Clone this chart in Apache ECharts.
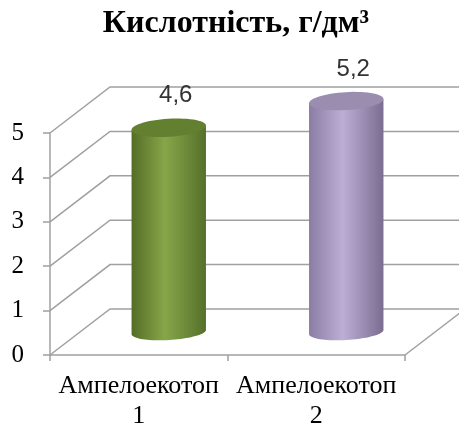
<!DOCTYPE html>
<html><head><meta charset="utf-8">
<script src="https://cdn.jsdelivr.net/npm/echarts@6/dist/echarts.min.js"></script>
<style>html,body{margin:0;padding:0;background:#fff}#c{width:459px;height:425px}</style>
</head><body><div id="c"></div>
<script>
var categories = ['Ампелоекотоп\n1', 'Ампелоекотоп\n2'];
var values = [4.6, 5.2];
var valueLabels = ['4,6', '5,2'];
var yTicks = [0, 1, 2, 3, 4, 5];
var titleText = 'Кислотність, г/дм³';

var DX = 60, DY = -46;
var gradients = [
  {side: ['#546d25', '#87a64a', '#55702a'], top: '#62802f'},
  {side: ['#8a7ca3', '#bdaed6', '#7b6d91'], top: '#9a8db0'}
];

function ellPt(cx, cy, rx, ry, rot, a) {
  var x = rx * Math.cos(a), y = ry * Math.sin(a);
  return [cx + x * Math.cos(rot) - y * Math.sin(rot), cy + x * Math.sin(rot) + y * Math.cos(rot)];
}
function ellipsePts(cx, cy, rx, ry, rot, a0, a1, n) {
  var pts = [];
  for (var i = 0; i <= n; i++) pts.push(ellPt(cx, cy, rx, ry, rot, a0 + (a1 - a0) * i / n));
  return pts;
}

var chart = echarts.init(document.getElementById('c'));
var serif = '"Liberation Serif","Times New Roman",serif';
var sans = '"Liberation Sans",Arial,sans-serif';
chart.setOption({
  animation: false,
  title: {text: titleText, left: 231, textAlign: 'center', top: 3,
    textStyle: {fontFamily: serif, fontSize: 32, fontWeight: 'bold', color: '#000'}},
  grid: {left: 50, right: 54, top: 133, bottom: 70, containLabel: false, outerBoundsMode: 'none'},
  xAxis: {type: 'category', data: categories,
    axisLine: {lineStyle: {color: '#a0a0a0', width: 1.5}},
    axisTick: {show: true, length: 6, lineStyle: {color: '#a0a0a0', width: 1.5}},
    axisLabel: {interval: 0, hideOverlap: false, fontFamily: serif, fontSize: 26, color: '#000', lineHeight: 30, margin: 16}},
  yAxis: {type: 'value', min: 0, max: 5, interval: 1,
    axisLine: {show: true, lineStyle: {color: '#a0a0a0', width: 1.5}},
    axisTick: {show: true, length: 7, lineStyle: {color: '#a0a0a0', width: 1.5}},
    splitLine: {show: false},
    axisLabel: {fontFamily: serif, fontSize: 25, color: '#000', margin: 26}},
  series: [
    {type: 'custom', silent: true, z: 1, data: yTicks.map(function(v){return [0, v];}),
      renderItem: function(params, api) {
        var cs = params.coordSys;
        var v = api.value(1);
        var y = api.coord([0, v])[1];
        var L = cs.x, R = cs.x + cs.width;
        var st = {stroke: '#a0a0a0', lineWidth: 1.5, fill: null};
        var children = [{type: 'polyline', shape: {points: [[L, y], [L + DX, y + DY], [R + DX + 10, y + DY]]}, style: st}];
        if (v === 0) children.push({type: 'line', shape: {x1: R, y1: y, x2: R + DX, y2: y + DY}, style: st});
        return {type: 'group', children: children};
      }},
    {type: 'custom', silent: true, z: 3, data: values.map(function(v, i){return [i, v];}),
      renderItem: function(params, api) {
        var i = api.value(0), v = api.value(1);
        var b = api.coord([i, 0]), t = api.coord([i, v]);
        var band = api.size([1, 0])[0];
        var rx = band * 0.21, ry = 9, rot = -0.06;
        var cx = b[0] + DX / 2, by = b[1] + DY / 2, ty = t[1] + DY / 2;
        var g = gradients[i];
        var topPts = ellipsePts(cx, ty, rx, ry, rot, 0, Math.PI * 2, 60);
        var tl = ellPt(cx, ty, rx, ry, rot, Math.PI);
        var tr = ellPt(cx, ty, rx, ry, rot, 0);
        var bf = ellipsePts(cx, by, rx, ry - 1, rot, Math.PI, 0, 40);
        var body = [tr, tl].concat(bf);
        var grad = new echarts.graphic.LinearGradient(0, 0, 1, 0, [
          {offset: 0, color: g.side[0]}, {offset: 0.45, color: g.side[1]}, {offset: 1, color: g.side[2]}]);
        return {type: 'group', children: [
          {type: 'polygon', shape: {points: body}, style: {fill: grad}},
          {type: 'polygon', shape: {points: topPts}, style: {fill: g.top}},
          {type: 'text', x: cx + 7, y: ty - 32, style: {text: valueLabels[i], fontFamily: sans, fontSize: 24, fill: '#333', align: 'center', verticalAlign: 'middle'}}
        ]};
      }}
  ]
});
</script></body></html>
